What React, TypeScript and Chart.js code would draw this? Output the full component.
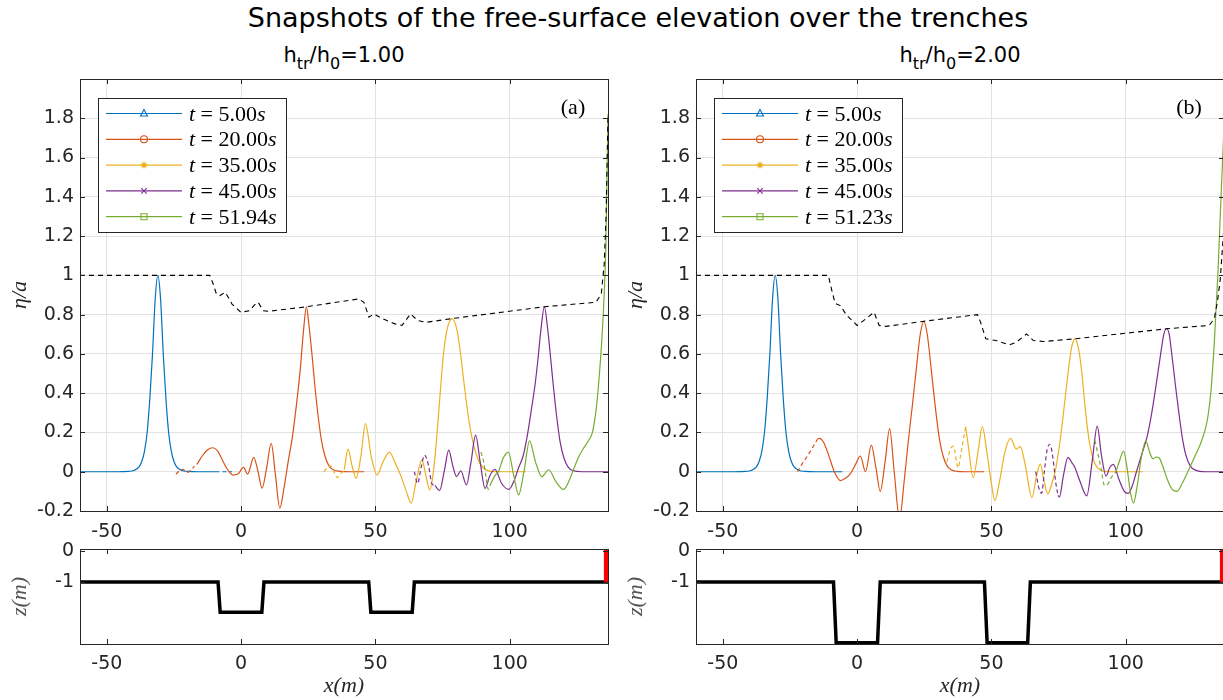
import React, { useEffect, useRef } from "react";
import { Chart, registerables } from "chart.js";

Chart.register(...registerables);
Chart.defaults.font.family = "'DejaVu Sans'";

type Pt = [number, number];

const X_MIN = -60;
const X_MAX = 136.6;
const xTickValues = [-50, 0, 50, 100];
const etaTickValues = [-0.2, 0, 0.2, 0.4, 0.6, 0.8, 1, 1.2, 1.4, 1.6, 1.8];
const zTickValues = [-1, 0];
const seriesColors = ["#0072BD", "#D95319", "#EDB120", "#7E2F8E", "#77AC30"];
const seriesMarkers = ["triangle", "circle", "asterisk", "cross", "square"];
const timesA = ["5.00", "20.00", "35.00", "45.00", "51.94"];
const timesB = ["5.00", "20.00", "35.00", "45.00", "51.23"];

// ---------- panel (a): h_tr/h_0 = 1.00 ----------
const blueA: Pt[] = [[-60,0],[-46,0],[-42,0.002],[-40,0.006],[-38,0.025],[-37,0.052],[-36,0.104],[-35,0.2],[-34,0.371],[-33,0.6],[-32,0.88],[-31,1.0],[-30,0.88],[-29,0.6],[-28,0.371],[-27,0.2],[-26,0.104],[-25,0.052],[-24,0.025],[-22,0.006],[-20,0.002],[-16,0],[-9.6,0]];
const blueADash: Pt[] = [[-9.6,0],[-3.4,0]];
const redADash: Pt[] = [[-24.3,-0.012],[-23,0.004],[-21.6,0.012],[-20.2,-0.004],[-18.8,0.008],[-17.4,0.028]];
const redA: Pt[] = [[-16.5,0.037],[-14.5,0.08],[-12.5,0.112],[-10.5,0.122],[-8.7,0.105],[-7,0.06],[-5,0.01],[-3,-0.017],[-1.2,-0.012],[0.9,0.022],[2.4,-0.012],[4.7,0.073],[6.3,0.0],[7.8,-0.084],[9.5,0.02],[11.2,0.144],[12.8,-0.02],[14.4,-0.186],[16,-0.08],[17.5,0.05],[19,0.17],[20.5,0.33],[22,0.52],[23.3,0.73],[24.3,0.84],[25.3,0.74],[26.5,0.58],[27.5,0.43],[28.7,0.28],[29.9,0.16],[31.2,0.08],[32.5,0.035],[34,0.012],[37,0.002],[40,0],[45.8,0]];
const yellowADash: Pt[] = [[30.8,0],[32,0.02],[33.3,0.03],[34.6,0.0],[35.8,-0.03],[37,-0.01],[38.4,0.01]];
const yellowA: Pt[] = [[38.4,0.01],[39.8,0.115],[41.3,0.03],[42.8,-0.034],[44.6,0.08],[46.3,0.245],[48.4,0.08],[50.6,-0.017],[52.8,0.05],[55.2,0.1],[57.5,0.04],[59.6,-0.025],[61.5,-0.1],[63.3,-0.16],[65.3,-0.04],[67.3,0.06],[68.8,-0.02],[70.2,-0.093],[71.5,-0.01],[72.8,0.17],[74,0.38],[75.2,0.58],[76.6,0.72],[78.6,0.78],[80.4,0.72],[81.7,0.6],[83,0.45],[84.5,0.29],[86,0.17],[87.5,0.09],[89,0.04],[90.5,0.015],[93,0.002],[96,0],[106,0]];
const purpleADash: Pt[] = [[64.5,0],[65.7,-0.06],[67,0.02],[68.3,0.085],[69.8,0.03],[71,-0.06],[72.2,-0.07]];
const purpleA: Pt[] = [[72.2,-0.07],[73.9,-0.096],[75.6,0.0],[77.3,0.11],[78.8,0.03],[80.2,-0.025],[81.8,0.005],[83.9,-0.067],[85.6,0.05],[87.3,0.186],[89,0.05],[90.8,-0.085],[92.6,-0.02],[94.5,0.012],[97,-0.06],[99.7,-0.09],[101.5,-0.05],[103.3,0.02],[105,0.08],[106.5,0.18],[108,0.31],[109.5,0.45],[110.5,0.57],[111.6,0.72],[112.9,0.84],[114.2,0.72],[115.3,0.57],[116.3,0.43],[117.5,0.28],[118.8,0.15],[120.2,0.07],[121.7,0.025],[123.5,0.006],[127,0],[136.6,0]];
const greenADash: Pt[] = [[89.3,0.1],[90.3,0.05],[91.2,-0.03],[92,-0.09],[93,-0.06]];
const greenA: Pt[] = [[93,-0.06],[94.5,-0.02],[95.8,0.0],[97.6,0.07],[99.5,0.10],[101.5,-0.02],[103.3,-0.118],[105.3,0.0],[107.4,0.157],[109.6,0.05],[112,-0.025],[114.5,0.01],[117.2,-0.05],[120.1,-0.09],[122.3,-0.04],[124,0.02],[125.7,0.076],[127.5,0.12],[129.4,0.16],[130.8,0.2],[132.3,0.33],[133.3,0.48],[134.2,0.65],[135,0.85],[135.8,1.15],[136.6,1.82]];
const envelopeA: Pt[] = [[-60,1.0],[-11.7,1.0],[-10.5,0.96],[-9.2,0.905],[-7.9,0.897],[-5.9,0.914],[-3.4,0.854],[-0.1,0.812],[3.1,0.82],[5,0.85],[6.3,0.863],[8.3,0.82],[10.2,0.817],[24.3,0.84],[43.7,0.88],[45.7,0.863],[47.6,0.787],[49.5,0.804],[52.1,0.783],[57.3,0.753],[59.9,0.745],[63.1,0.804],[65.7,0.77],[68.9,0.761],[78.6,0.78],[112.9,0.84],[132.1,0.863],[134.1,0.905],[135.2,1.06],[135.9,1.31],[136.6,1.82]];
const bathyA: Pt[] = [[-60,-1],[-8.6,-1],[-7.8,-2],[7.7,-2],[8.5,-1],[47.5,-1],[48.3,-2],[63.7,-2],[64.5,-1],[136.6,-1]];

// ---------- panel (b): h_tr/h_0 = 2.00 ----------
const blueB: Pt[] = [[-60,0],[-46,0],[-41.5,0.002],[-39.5,0.006],[-37.5,0.025],[-36.5,0.052],[-35.5,0.104],[-34.5,0.2],[-33.5,0.371],[-32.5,0.6],[-31.5,0.88],[-30.5,1.0],[-29.5,0.88],[-28.5,0.6],[-27.5,0.371],[-26.5,0.2],[-25.5,0.104],[-24.5,0.052],[-23.5,0.025],[-21.5,0.006],[-19.5,0.002],[-15,0],[-5.5,0]];
const redBDash: Pt[] = [[-22.2,0.0],[-20.5,0.04],[-18.5,0.08],[-16.5,0.125],[-14.8,0.165]];
const redB: Pt[] = [[-14.8,0.165],[-14.1,0.17],[-12.5,0.15],[-10.5,0.08],[-8.5,0.0],[-6.3,-0.045],[-4.5,-0.035],[-2.5,-0.01],[-0.5,0.04],[1.2,0.08],[3.1,0.0],[5.3,0.135],[7,0.02],[8.6,-0.1],[10.4,0.05],[12.1,0.22],[13.8,0.0],[15.8,-0.24],[17.5,-0.05],[19,0.15],[20.5,0.33],[22,0.52],[23.5,0.7],[24.8,0.766],[26.1,0.7],[27.6,0.52],[29.1,0.33],[30.6,0.17],[32,0.08],[33.5,0.03],[35,0.01],[37,0.002],[40,0],[47.3,0]];
const yellowBDash: Pt[] = [[33.4,0.05],[34.6,0.11],[35.8,0.13],[37.6,0.02],[38.6,0.09],[40.4,0.23]];
const yellowB: Pt[] = [[40.4,0.23],[41.5,0.12],[43.2,-0.03],[45,0.1],[46.6,0.23],[48.5,0.08],[50,-0.06],[51.3,-0.147],[53,-0.05],[55,0.1],[57.1,0.17],[59.3,0.115],[60.8,0.128],[62.5,0.04],[65.1,-0.132],[66.8,-0.02],[68.2,0.039],[69.5,-0.04],[71,-0.113],[72.5,-0.06],[74,0.02],[75.5,0.15],[77,0.32],[78.5,0.5],[79.8,0.63],[81.1,0.677],[82.4,0.63],[83.7,0.5],[85.1,0.3],[86.5,0.15],[88,0.06],[89.5,0.02],[92,0.003],[95,0],[106.3,0]];
const purpleBDash: Pt[] = [[66.5,0.0],[67.7,-0.085],[68.7,-0.11],[69.7,0.0],[70.7,0.11],[71.8,0.14],[73,0.06],[74,-0.06],[74.8,-0.12]];
const purpleB: Pt[] = [[74.8,-0.12],[75.3,-0.13],[76.8,-0.02],[78.5,0.073],[80,0.045],[81,0.024],[83,-0.05],[85.5,-0.123],[87.5,0.05],[89.4,0.232],[91,0.08],[92.7,-0.022],[94,0.02],[95.4,0.037],[97.5,-0.04],[99.5,-0.1],[101,-0.11],[102.5,-0.07],[104,0.0],[106,0.09],[108,0.18],[109.7,0.3],[111.3,0.44],[112.8,0.58],[114.2,0.7],[115.2,0.728],[116.2,0.7],[117.4,0.57],[118.6,0.43],[119.8,0.3],[121,0.18],[122.3,0.09],[124,0.03],[126,0.008],[130,0],[136.6,0]];
const greenBDash: Pt[] = [[88.5,0.16],[89.5,0.1],[90.8,0.02],[92.1,-0.07],[93.5,-0.06],[94.6,-0.03],[96.4,0]];
const greenB: Pt[] = [[96.4,0],[97.8,0.06],[99.2,0.105],[100.5,0.02],[101.7,-0.1],[102.9,-0.16],[104.2,-0.08],[105.8,0.07],[107.5,0.157],[108.9,0.1],[110.2,0.066],[111.3,0.075],[112.5,0.07],[114,0.02],[115.5,-0.04],[117.3,-0.09],[119.2,-0.1],[121,-0.06],[122.8,-0.01],[124.5,0.04],[126,0.086],[127.8,0.14],[129.3,0.2],[130.6,0.28],[131.8,0.42],[133,0.66],[134.3,1.0],[135.2,1.3],[135.8,1.5],[136.6,1.75]];
const envelopeB: Pt[] = [[-60,1.0],[-10.7,1.0],[-9.9,0.95],[-9.1,0.905],[-8.2,0.858],[-6.3,0.846],[-3.8,0.795],[0,0.745],[3.2,0.778],[6.3,0.812],[8.2,0.745],[10.7,0.74],[24.8,0.766],[44.8,0.8],[46,0.76],[47.9,0.677],[51.7,0.668],[56.7,0.646],[59.3,0.66],[63.1,0.702],[65.6,0.668],[69.4,0.663],[81.1,0.677],[115.2,0.728],[131.1,0.745],[133,0.78],[134.2,0.87],[135.2,0.98],[136.6,1.25]];
const bathyB: Pt[] = [[-60,-1],[-8.8,-1],[-7.8,-3],[7.6,-3],[8.6,-1],[47.4,-1],[48.4,-3],[63.5,-3],[64.5,-1],[136.6,-1]];

const wallLine: Pt[] = [[136,-1],[136,0.08]];

// ---------- helpers ----------
const AXIS = "#262626";
const GRID = "#e2e2e2";

function drawMarker(ctx: CanvasRenderingContext2D, kind: string, x: number, y: number, color: string) {
  ctx.save();
  ctx.strokeStyle = color;
  ctx.lineWidth = 1.1;
  ctx.beginPath();
  const r = 3.5;
  if (kind === "triangle") {
    ctx.moveTo(x, y - r - 0.5); ctx.lineTo(x + r, y + r - 1); ctx.lineTo(x - r, y + r - 1); ctx.closePath();
  } else if (kind === "circle") {
    ctx.arc(x, y, r, 0, Math.PI * 2);
  } else if (kind === "asterisk") {
    const d = r * 0.7;
    ctx.moveTo(x - r, y); ctx.lineTo(x + r, y); ctx.moveTo(x, y - r); ctx.lineTo(x, y + r);
    ctx.moveTo(x - d, y - d); ctx.lineTo(x + d, y + d); ctx.moveTo(x - d, y + d); ctx.lineTo(x + d, y - d);
  } else if (kind === "cross") {
    const c = r * 0.8;
    ctx.moveTo(x - c, y - c); ctx.lineTo(x + c, y + c); ctx.moveTo(x - c, y + c); ctx.lineTo(x + c, y - c);
  } else {
    ctx.rect(x - r + 0.5, y - r + 0.5, 2 * r - 1, 2 * r - 1);
  }
  ctx.stroke();
  ctx.restore();
}

const framePlugin = {
  id: "frameTicks",
  afterDraw(chart: any) {
    const { ctx, chartArea: a, scales } = chart;
    const L = 5;
    ctx.save();
    ctx.strokeStyle = AXIS;
    ctx.lineWidth = 1;
    ctx.beginPath();
    for (const t of scales.x.ticks) {
      const px = Math.round(scales.x.getPixelForValue(t.value)) + 0.5;
      ctx.moveTo(px, a.bottom); ctx.lineTo(px, a.bottom - L);
      ctx.moveTo(px, a.top); ctx.lineTo(px, a.top + L);
    }
    for (const t of scales.y.ticks) {
      const py = Math.round(scales.y.getPixelForValue(t.value)) + 0.5;
      ctx.moveTo(a.left, py); ctx.lineTo(a.left + L, py);
      ctx.moveTo(a.right, py); ctx.lineTo(a.right - L, py);
    }
    ctx.stroke();
    ctx.strokeRect(Math.round(a.left) + 0.5, Math.round(a.top) + 0.5, Math.round(a.right - a.left), Math.round(a.bottom - a.top));
    ctx.restore();
  },
};

const legendPlugin = {
  id: "legendBox",
  afterDraw(chart: any, _args: any, opts: any) {
    if (!opts || !opts.times) return;
    const { ctx, chartArea: a } = chart;
    const bx = Math.round(a.left) + 18;
    const by = Math.round(a.top) + 19;
    const bw = 188;
    const bh = 134;
    ctx.save();
    ctx.fillStyle = "#ffffff";
    ctx.fillRect(bx, by, bw, bh);
    ctx.strokeStyle = AXIS;
    ctx.lineWidth = 1;
    ctx.strokeRect(bx + 0.5, by + 0.5, bw, bh);
    const font = "'Liberation Serif', 'DejaVu Serif', serif";
    opts.times.forEach((t: string, i: number) => {
      const ry = by + 15.5 + i * 25.8;
      const color = seriesColors[i];
      ctx.strokeStyle = color;
      ctx.lineWidth = 1.2;
      ctx.beginPath();
      ctx.moveTo(bx + 8, ry); ctx.lineTo(bx + 84, ry);
      ctx.stroke();
      drawMarker(ctx, seriesMarkers[i], bx + 46, ry, color);
      let tx = bx + 91;
      const base = ry + 7;
      ctx.fillStyle = "#000";
      ctx.textBaseline = "alphabetic";
      ctx.textAlign = "left";
      ctx.font = `italic 22px ${font}`;
      ctx.fillText("t", tx, base);
      tx += ctx.measureText("t").width;
      ctx.font = `22px ${font}`;
      const mid = " = " + t;
      ctx.fillText(mid, tx, base);
      tx += ctx.measureText(mid).width;
      ctx.font = `italic 22px ${font}`;
      ctx.fillText("s", tx, base);
    });
    ctx.font = `22px ${font}`;
    ctx.textAlign = "center";
    ctx.textBaseline = "middle";
    ctx.fillStyle = "#000";
    ctx.fillText(opts.label, a.right - 35, a.top + 29);
    ctx.restore();
  },
};

function line(data: Pt[], color: string, dash: number[] = [], width = 1.2, smooth = true) {
  return {
    data: data.map(([x, y]) => ({ x, y })),
    borderColor: color,
    backgroundColor: color,
    borderWidth: width,
    borderDash: dash,
    pointRadius: 0,
    fill: false,
    tension: 0,
    cubicInterpolationMode: smooth ? "monotone" : "default",
  };
}

const tickFont = { family: "'DejaVu Sans'", size: 19 };
const labelFont = { family: "'Liberation Serif', 'DejaVu Serif', serif", size: 22, style: "italic" as const };

function xScale(height: number, title: string | null) {
  return {
    type: "linear",
    min: X_MIN,
    max: X_MAX,
    afterBuildTicks: (s: any) => { s.ticks = xTickValues.map((v) => ({ value: v })); },
    afterFit: (s: any) => { s.height = height; s.paddingLeft = 0; s.paddingRight = 0; },
    grid: { display: title === null, color: GRID, drawTicks: false, lineWidth: 1 },
    border: { display: false },
    ticks: { padding: title === null ? 10 : 9, color: AXIS, font: tickFont, maxRotation: 0, callback: (v: any) => String(v) },
    title: title === null ? { display: false } : { display: true, text: title, color: AXIS, font: labelFont, padding: { top: 0, bottom: 1 } },
  };
}

interface TopPanel {
  blue: Pt[]; blueDash: Pt[]; red: Pt[]; redDash: Pt[]; yellow: Pt[]; yellowDash: Pt[];
  purple: Pt[]; purpleDash: Pt[]; green: Pt[]; greenDash: Pt[]; envelope: Pt[];
  times: string[]; label: string;
}

const panelA: TopPanel = { blue: blueA, blueDash: blueADash, red: redA, redDash: redADash, yellow: yellowA, yellowDash: yellowADash, purple: purpleA, purpleDash: purpleADash, green: greenA, greenDash: greenADash, envelope: envelopeA, times: timesA, label: "(a)" };
const panelB: TopPanel = { blue: blueB, blueDash: [], red: redB, redDash: redBDash, yellow: yellowB, yellowDash: yellowBDash, purple: purpleB, purpleDash: purpleBDash, green: greenB, greenDash: greenBDash, envelope: envelopeB, times: timesB, label: "(b)" };

function topConfig(p: TopPanel): any {
  const dash = [4, 3];
  return {
    type: "line",
    data: {
      datasets: [
        line(p.envelope, "#000000", [5, 4], 1.1, false),
        line(p.green, seriesColors[4]),
        line(p.greenDash, seriesColors[4], dash),
        line(p.purple, seriesColors[3]),
        line(p.purpleDash, seriesColors[3], dash),
        line(p.yellow, seriesColors[2]),
        line(p.yellowDash, seriesColors[2], dash),
        line(p.red, seriesColors[1]),
        line(p.redDash, seriesColors[1], dash),
        line(p.blue, seriesColors[0]),
        line(p.blueDash, seriesColors[0], dash),
      ],
    },
    options: {
      responsive: false,
      animation: false,
      events: [],
      layout: { padding: { top: 19, right: 12, left: 0, bottom: 0 } },
      plugins: {
        legend: { display: false },
        tooltip: { enabled: false },
        legendBox: { times: p.times, label: p.label },
      },
      scales: {
        x: xScale(29, null),
        y: {
          type: "linear",
          min: -0.2,
          max: 2.0,
          afterBuildTicks: (s: any) => { s.ticks = etaTickValues.map((v) => ({ value: v })); },
          afterFit: (s: any) => { s.width = 80; s.paddingTop = 0; s.paddingBottom = 0; },
          grid: { color: GRID, drawTicks: false, lineWidth: 1 },
          border: { display: false },
          ticks: { padding: 6, color: AXIS, font: tickFont, callback: (v: any) => String(Math.round(Number(v) * 10) / 10) },
          title: { display: true, text: "η/a", color: AXIS, font: labelFont, padding: { top: 7, bottom: 0 } },
        },
      },
    },
    plugins: [framePlugin, legendPlugin],
  };
}

function bottomConfig(bathy: Pt[]): any {
  return {
    type: "line",
    data: {
      datasets: [
        line(wallLine, "#ff0000", [], 5, false),
        line(bathy, "#000000", [], 3.5, false),
      ],
    },
    options: {
      responsive: false,
      animation: false,
      events: [],
      layout: { padding: { top: 9, right: 12, left: 0, bottom: 0 } },
      plugins: { legend: { display: false }, tooltip: { enabled: false } },
      scales: {
        x: xScale(56, "x(m)"),
        y: {
          type: "linear",
          min: -3.04,
          max: 0.08,
          afterBuildTicks: (s: any) => { s.ticks = zTickValues.map((v) => ({ value: v })); },
          afterFit: (s: any) => { s.width = 80; s.paddingTop = 0; s.paddingBottom = 0; },
          grid: { display: false, drawTicks: false },
          border: { display: false },
          ticks: { padding: 6, color: AXIS, font: tickFont, callback: (v: any) => String(v) },
          title: { display: true, text: "z(m)", color: "#555555", font: labelFont, padding: { top: 7, bottom: 0 } },
        },
      },
    },
    plugins: [framePlugin],
  };
}

function ChartBox({ left, top, width, height, make }: { left: number; top: number; width: number; height: number; make: () => any }) {
  const ref = useRef<HTMLCanvasElement>(null);
  useEffect(() => {
    const chart = new Chart(ref.current as HTMLCanvasElement, make());
    return () => chart.destroy();
  }, []);
  return (
    <canvas
      ref={ref}
      width={width}
      height={height}
      style={{ position: "absolute", left, top, width, height }}
    />
  );
}

function Subtitle({ center, value }: { center: number; value: string }) {
  const sub = { fontSize: 16, position: "relative" as const, top: 7 };
  return (
    <div
      style={{
        position: "absolute",
        left: center - 150,
        width: 300,
        top: 43,
        textAlign: "center",
        fontFamily: "'DejaVu Sans'",
        fontSize: 21,
        lineHeight: "24px",
        color: "#000",
        whiteSpace: "nowrap",
      }}
    >
      h<span style={sub}>tr</span>/h<span style={sub}>0</span>={value}
    </div>
  );
}

export default function App() {
  return (
    <div
      style={{
        position: "fixed",
        left: 0,
        top: 0,
        width: 1223,
        height: 700,
        overflow: "hidden",
        background: "#ffffff",
      }}
    >
      <div
        style={{
          position: "absolute",
          left: 38,
          width: 1200,
          top: 2,
          textAlign: "center",
          fontFamily: "'DejaVu Sans'",
          fontSize: 27,
          lineHeight: "31px",
          color: "#000",
          whiteSpace: "nowrap",
        }}
      >
        Snapshots of the free-surface elevation over the trenches
      </div>
      <Subtitle center={344} value="1.00" />
      <Subtitle center={960} value="2.00" />
      <ChartBox left={0} top={60} width={620} height={480} make={() => topConfig(panelA)} />
      <ChartBox left={616} top={60} width={620} height={480} make={() => topConfig(panelB)} />
      <ChartBox left={0} top={540} width={620} height={160} make={() => bottomConfig(bathyA)} />
      <ChartBox left={616} top={540} width={620} height={160} make={() => bottomConfig(bathyB)} />
    </div>
  );
}
